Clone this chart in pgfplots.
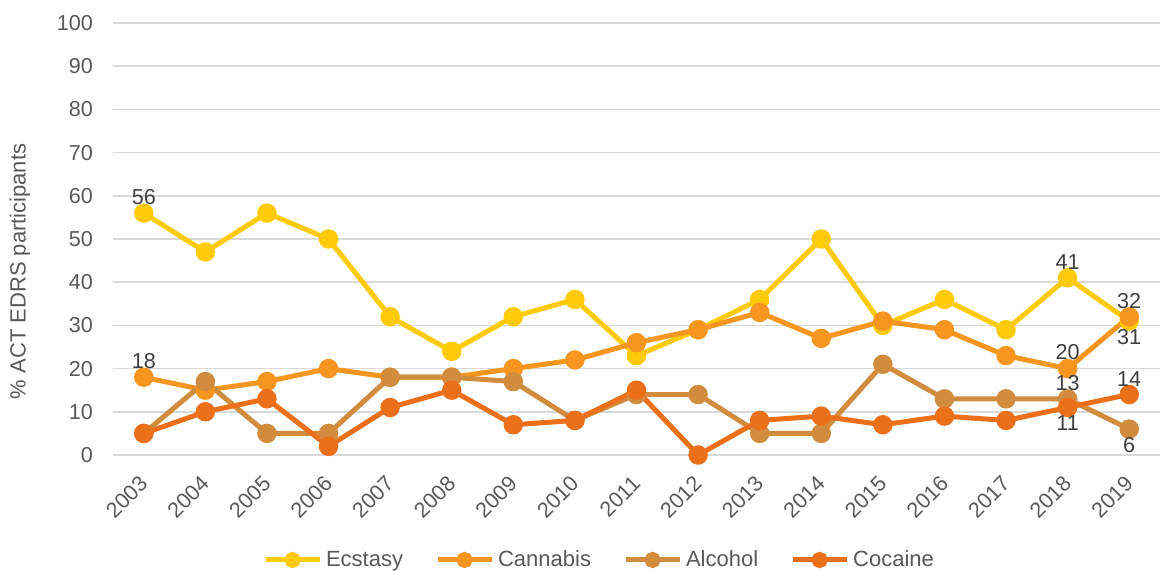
\documentclass[border=0pt]{standalone}
\usepackage{pgfplots}
\pgfplotsset{compat=1.18}
\usepackage{fontspec}
\setmainfont{Liberation Sans}
\definecolor{cEcs}{HTML}{FFCA08}
\definecolor{cCan}{HTML}{F7961F}
\definecolor{cAlc}{HTML}{D18C3E}
\definecolor{cCoc}{HTML}{EB7019}
\definecolor{tickc}{HTML}{595959}
\definecolor{labc}{HTML}{404040}
\definecolor{gridc}{HTML}{D9D9D9}
\begin{document}
\begin{tikzpicture}
\useasboundingbox (-56.5pt,-58pt) rectangle (526.5pt,227.5pt);
\begin{axis}[
  at={(0,0)}, anchor=south west,
  scale only axis, width=523.5pt, height=216pt,
  xmin=2002.5, xmax=2019.5, ymin=0, ymax=100,
  xtick={2003,2004,2005,2006,2007,2008,2009,2010,2011,2012,2013,2014,2015,2016,2017,2018,2019},
  ytick={0,10,...,100},
  xticklabel style={xshift=-2.8pt, yshift=-4.8pt, rotate=45, anchor=north east},
  yticklabel style={xshift=-6.5pt},
  /pgf/number format/1000 sep={},
  /pgf/number format/assume math mode=true,
  tick label style={font=\fontsize{10.8}{12}\selectfont, text=tickc},
  major tick length=0pt,
  axis line style={draw=none},
  xmajorgrids=false, ymajorgrids=true, grid style={color=gridc, line width=0.75pt},
  ylabel={\% ACT EDRS participants},
  ylabel style={font=\fontsize{11}{12}\selectfont, text=tickc, at={(axis description cs:-0.0888,0.425)}, anchor=center},
  every axis plot/.append style={line width=2.5pt, mark=*, mark size=3.6pt},
  legend style={at={(axis description cs:0.4656,-0.243)}, anchor=center, draw=none, legend columns=4,
    font=\fontsize{11}{12}\selectfont, text=tickc, inner sep=0pt,
    /tikz/every odd column/.append style={column sep=0pt},
    /tikz/every even column/.append style={column sep=14pt},
    /tikz/every node/.append style={inner xsep=2pt}},
  legend image code/.code={\draw[#1, mark size=2.8pt, mark repeat=2, mark phase=2] plot coordinates {(0pt,0pt) (13.5pt,0pt) (27pt,0pt)};},
  clip=false,
]
\addplot[cEcs] coordinates {(2003,56)(2004,47)(2005,56)(2006,50)(2007,32)(2008,24)(2009,32)(2010,36)(2011,23)(2012,29)(2013,36)(2014,50)(2015,30)(2016,36)(2017,29)(2018,41)(2019,31)};
\addlegendentry{Ecstasy}
\addplot[cCan] coordinates {(2003,18)(2004,15)(2005,17)(2006,20)(2007,18)(2008,18)(2009,20)(2010,22)(2011,26)(2012,29)(2013,33)(2014,27)(2015,31)(2016,29)(2017,23)(2018,20)(2019,32)};
\addlegendentry{Cannabis}
\addplot[cAlc] coordinates {(2003,5)(2004,17)(2005,5)(2006,5)(2007,18)(2008,18)(2009,17)(2010,8)(2011,14)(2012,14)(2013,5)(2014,5)(2015,21)(2016,13)(2017,13)(2018,13)(2019,6)};
\addlegendentry{Alcohol}
\addplot[cCoc] coordinates {(2003,5)(2004,10)(2005,13)(2006,2)(2007,11)(2008,15)(2009,7)(2010,8)(2011,15)(2012,0)(2013,8)(2014,9)(2015,7)(2016,9)(2017,8)(2018,11)(2019,14)};
\addlegendentry{Cocaine}
% data labels above
\addplot[draw=none, mark=none, forget plot, nodes near coords,
  every node near coord/.append style={anchor=south, font=\fontsize{10.8}{12}\selectfont, text=labc, inner sep=2pt, yshift=1pt}]
  coordinates {(2003,56)(2003,18)(2018,41)(2018,20)(2018,13)(2019,32)(2019,14)};
% data labels below
\addplot[draw=none, mark=none, forget plot, nodes near coords,
  every node near coord/.append style={anchor=north, font=\fontsize{10.8}{12}\selectfont, text=labc, inner sep=2pt, yshift=-1pt}]
  coordinates {(2018,11)(2019,31)(2019,6)};
\end{axis}
\end{tikzpicture}
\end{document}
